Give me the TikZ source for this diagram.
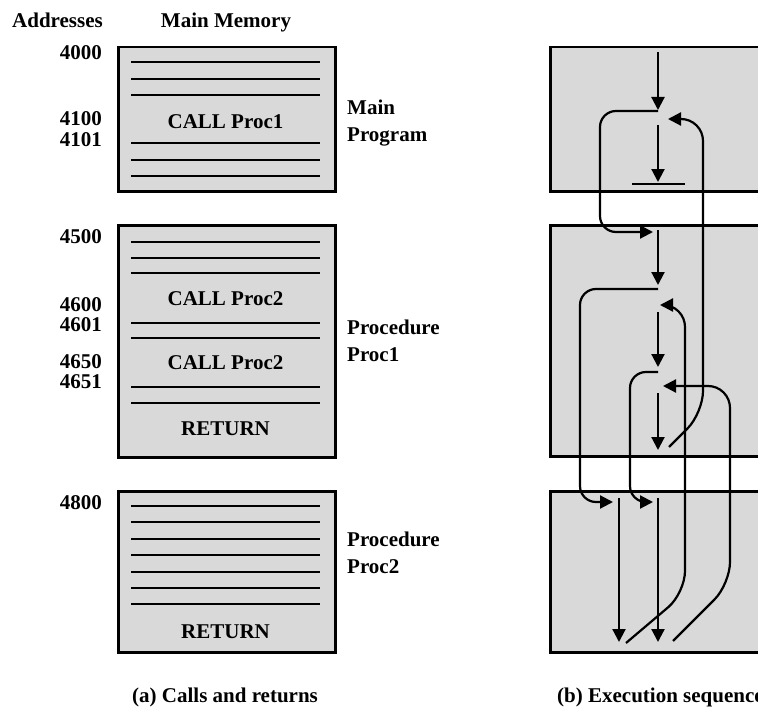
\documentclass[tikz,border=0pt]{standalone}
\usepackage{fontspec}
\setmainfont{Liberation Serif}
\usetikzlibrary{arrows.meta}
\definecolor{boxgray}{HTML}{D9D9D9}
\newcommand{\lblfont}{\fontsize{21}{25}\selectfont\bfseries}
\begin{document}
\begin{tikzpicture}[x=1pt,y=-1pt,
  lbl/.style={font=\lblfont, inner sep=0pt, text height=13.9pt, text depth=0pt},
  mem/.style={draw, line width=2.5pt, fill=boxgray, inner sep=0pt, anchor=north west},
  row/.style={line width=2.3pt},
  tip/.style={-{Triangle[length=13pt,width=13pt]}},
  flow/.style={line width=2.2pt, tip},
  link/.style={line width=2.2pt, rounded corners=16pt, tip},
  retn/.style={line width=2.2pt, rounded corners=22pt, tip}]
\useasboundingbox (0,0) rectangle (758,709);
\clip (0,0) rectangle (758,709);
\fill[white] (0,0) rectangle (758,709);

% headings
\node[lbl, anchor=west] (hAddr) at (12,21) {Addresses};
\node[lbl] (hMem) at (226,21) {Main Memory};

% left memory boxes
\node[mem, minimum width=217pt, minimum height=144pt] (m1) at (117,46) {};
\node[mem, minimum width=217pt, minimum height=232pt] (m2) at (117,224) {};
\node[mem, minimum width=217pt, minimum height=161pt] (m3) at (117,490) {};

\foreach \yy in {62,79,95,143,160,176,242,258,273,323,338,387,403,506,522,539,555,572,588,604}
  \draw[row] (131,\yy) -- (320,\yy);

\node[lbl] (i1) at (225.5,122) {CALL Proc1};
\node[lbl] (i2) at (225.5,299) {CALL Proc2};
\node[lbl] (i3) at (225.5,363) {CALL Proc2};
\node[lbl] (i4) at (225.5,429) {RETURN};
\node[lbl] (i5) at (225.5,632) {RETURN};

% addresses
\node[lbl, anchor=east] (a4000) at (102,53) {4000};
\node[lbl, anchor=east] (a4100) at (102,119) {4100};
\node[lbl, anchor=east] (a4101) at (102,140) {4101};
\node[lbl, anchor=east] (a4500) at (102,237) {4500};
\node[lbl, anchor=east] (a4600) at (102,305) {4600};
\node[lbl, anchor=east] (a4601) at (102,325) {4601};
\node[lbl, anchor=east] (a4650) at (102,362) {4650};
\node[lbl, anchor=east] (a4651) at (102,382) {4651};
\node[lbl, anchor=east] (a4800) at (102,503) {4800};

% side labels
\node[lbl, anchor=west] (n1) at (347,108) {Main};
\node[lbl, anchor=west] (n2) at (347,135) {Program};
\node[lbl, anchor=west] (n3) at (347,328) {Procedure};
\node[lbl, anchor=west] (n4) at (347,355) {Proc1};
\node[lbl, anchor=west] (n5) at (347,540) {Procedure};
\node[lbl, anchor=west] (n6) at (347,567) {Proc2};

% captions
\node[lbl, anchor=west] (capA) at (132,696) {(a) Calls and returns};
\node[lbl, anchor=west] (capB) at (557,696) {(b) Execution sequence};

% right execution boxes
\node[mem, minimum width=240pt, minimum height=144pt] (e1) at (549,46) {};
\node[mem, minimum width=240pt, minimum height=231pt] (e2) at (549,224) {};
\node[mem, minimum width=240pt, minimum height=161pt] (e3) at (549,490) {};

% coordinates
\coordinate (s1) at (658,52);  \coordinate (t1) at (658,110);
\coordinate (s2) at (658,125); \coordinate (t2) at (658,182);
\coordinate (s3) at (658,230); \coordinate (t3) at (658,285);
\coordinate (s4) at (658,312); \coordinate (t4) at (658,367);
\coordinate (s5) at (658,393); \coordinate (t5) at (658,450);
\coordinate (s6) at (619,498); \coordinate (t6) at (619,642);
\coordinate (s7) at (658,498); \coordinate (t7) at (658,642);
\coordinate (bl) at (632,184); \coordinate (br) at (685,184);

% sequential flow
\draw[flow] (s1) -- (t1);
\draw[flow] (s2) -- (t2);
\draw[line width=1.6pt] (bl) -- (br);
\draw[flow] (s3) -- (t3);
\draw[flow] (s4) -- (t4);
\draw[flow] (s5) -- (t5);
\draw[flow] (s6) -- (t6);
\draw[flow] (s7) -- (t7);

% calls
\coordinate (c1a) at (658,111); \coordinate (c1b) at (653,232);
\coordinate (c2a) at (658,289); \coordinate (c2b) at (613,502);
\coordinate (c3a) at (658,372); \coordinate (c3b) at (653,502);
\draw[link] (c1a) -- (600,111) -- (600,232) -- (c1b);
\draw[link] (c2a) -- (580,289) -- (580,502) -- (c2b);
\draw[link] (c3a) -- (630,372) -- (630,502) -- (c3b);

% returns
\coordinate (r1a) at (669,447); \coordinate (r1b) at (668,119);
\coordinate (r2a) at (626,643); \coordinate (r2b) at (660,305);
\coordinate (r3a) at (673,641); \coordinate (r3b) at (663,386);
\draw[retn] (r1a) -- (703,413) -- (703,119) -- (r1b);
\draw[retn] (r2a) -- (685,593) -- (685,305) -- (r2b);
\draw[retn] (r3a) -- (730,584) -- (730,386) -- (r3b);
\end{tikzpicture}
\end{document}
